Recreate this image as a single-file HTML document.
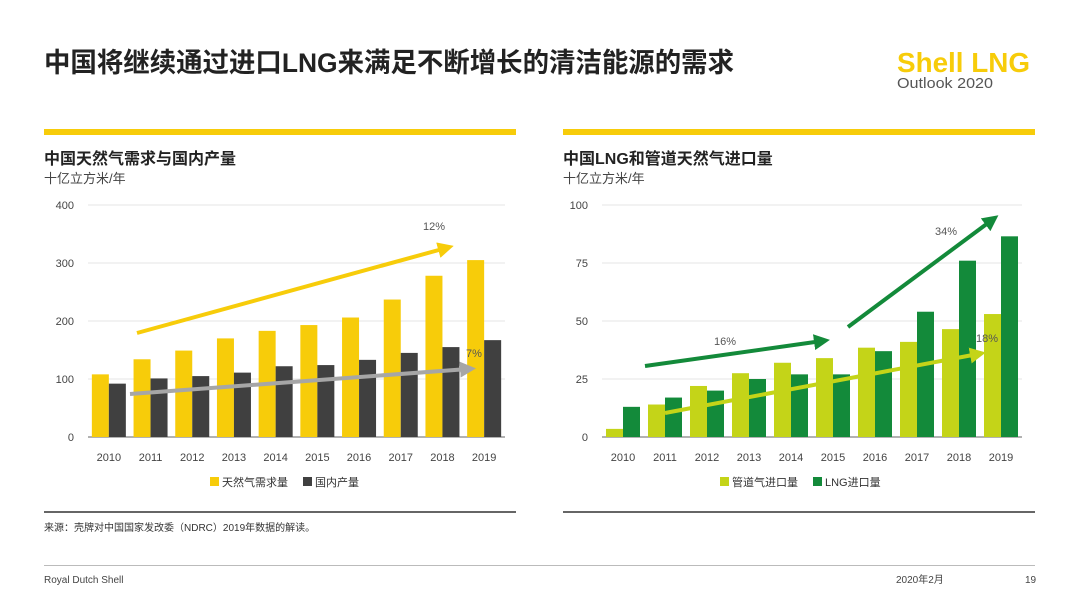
<!DOCTYPE html>
<html><head><meta charset="utf-8"><style>
body{margin:0;width:1080px;height:608px;background:#fff;overflow:hidden;font-family:"Liberation Sans","Noto Sans CJK SC",sans-serif;}
svg{position:absolute;left:0;top:0}
</style></head><body>
<svg id="s" width="1080" height="608" font-family="'Liberation Sans','Noto Sans CJK SC',sans-serif">
<defs>
<marker id="ay" markerWidth="4" markerHeight="4" refX="2" refY="2" orient="auto" markerUnits="strokeWidth"><path d="M0,0L4,2L0,4z" fill="#f7cc0a"/></marker>
<marker id="ag" markerWidth="4" markerHeight="4" refX="2" refY="2" orient="auto" markerUnits="strokeWidth"><path d="M0,0L4,2L0,4z" fill="#a6a6a6"/></marker>
<marker id="adg" markerWidth="4" markerHeight="4" refX="2" refY="2" orient="auto" markerUnits="strokeWidth"><path d="M0,0L4,2L0,4z" fill="#138a3a"/></marker>
<marker id="alg" markerWidth="4" markerHeight="4" refX="2" refY="2" orient="auto" markerUnits="strokeWidth"><path d="M0,0L4,2L0,4z" fill="#c4d418"/></marker>
</defs>
<text x="44" y="72" font-size="27" font-weight="bold" fill="#222" textLength="690" lengthAdjust="spacingAndGlyphs">中国将继续通过进口LNG来满足不断增长的清洁能源的需求</text>
<text x="897" y="72" font-size="28" font-weight="bold" fill="#f7cc0a" textLength="133" lengthAdjust="spacingAndGlyphs">Shell LNG</text>
<text x="897" y="88" font-size="15" fill="#555" textLength="96" lengthAdjust="spacingAndGlyphs">Outlook 2020</text>
<rect x="44" y="129" width="472" height="6" fill="#f7cc0a"/>
<rect x="563" y="129" width="472" height="6" fill="#f7cc0a"/>
<text x="44" y="164" font-size="16" font-weight="bold" fill="#222">中国天然气需求与国内产量</text>
<text x="44" y="183" font-size="13" fill="#444">十亿立方米/年</text>
<text x="563" y="164" font-size="16" font-weight="bold" fill="#222">中国LNG和管道天然气进口量</text>
<text x="563" y="183" font-size="13" fill="#444">十亿立方米/年</text>
<rect x="44" y="511" width="472" height="2" fill="#666"/>
<rect x="563" y="511" width="472" height="2" fill="#666"/>
<text x="44" y="531" font-size="10" fill="#333">来源：壳牌对中国国家发改委（NDRC）2019年数据的解读。</text>
<rect x="44" y="565" width="991" height="1" fill="#bbb"/>
<text x="44" y="583" font-size="10" fill="#444">Royal Dutch Shell</text>
<text x="896" y="583" font-size="10" fill="#444">2020年2月</text>
<text x="1025" y="583" font-size="10" fill="#444">19</text>
<g id="g1"></g><g id="g2"></g>
</svg>
<script>
const years=["2010","2011","2012","2013","2014","2015","2016","2017","2018","2019"];
const demand=[108,134,149,170,183,193,206,237,278,305];
const production=[92,101,105,111,122,124,133,145,155,167];
const leftTicks=[0,100,200,300,400];
const pipeline=[3.5,14,22,27.5,32,34,38.5,41,46.5,53];
const lngImports=[13,17,20,25,27,27,37,54,76,86.5];
const rightTicks=[0,25,50,75,100];
const NS="http://www.w3.org/2000/svg";
function mk(p,t,a){const e=document.createElementNS(NS,t);for(const k in a)e.setAttribute(k,a[k]);p.appendChild(e);return e;}
function chart(g,cfg){
  const x0=cfg.x0,x1=cfg.x1,yT=205,yB=437,max=cfg.max;
  const step=(x1-x0)/years.length;
  const y=v=>yB-(v/max)*(yB-yT);
  cfg.ticks.forEach(t=>{
    const l=mk(g,'line',{x1:x0,x2:x1,y1:y(t),y2:y(t),stroke:t===0?'#999':'#e6e6e6','stroke-width':t===0?1.5:1});
    
    
    const tx=mk(g,'text',{x:x0-14,y:y(t)+4,'text-anchor':'end','font-size':11,fill:'#444'});tx.textContent=t;
    
    
  });
  years.forEach((yr,i)=>{
    const cx=x0+step*(i+0.5);
    [[cfg.s1,cfg.c1,-1],[cfg.s2,cfg.c2,0]].forEach(([arr,c,o])=>{
      const r=mk(g,'rect',{x:cx+o*17,y:y(arr[i]),width:17,height:yB-y(arr[i]),fill:c});
      
      
    });
    const tx=mk(g,'text',{x:cx,y:yB+24,'text-anchor':'middle','font-size':11,fill:'#444'});tx.textContent=yr;
    
    
  });
  cfg.legend.forEach((L,i)=>{
    const r=mk(g,'rect',{x:L[0],y:477,width:9,height:9,fill:L[1]});
    
    
    const t=mk(g,'text',{x:L[0]+12,y:486,'font-size':11,fill:'#333'});t.textContent=L[2];
    
    
  });
  cfg.arrows.forEach(A=>{
    const l=mk(g,'line',{x1:A[0],y1:A[1],x2:A[2],y2:A[3],stroke:A[4],'stroke-width':4,'marker-end':'url(#'+A[5]+')'});
    
    
    const t=mk(g,'text',{x:A[6],y:A[7],'font-size':11,fill:'#555'});t.textContent=A[8];
    
    
  });
}
chart(document.getElementById('g1'),{x0:88,x1:505,max:400,ticks:leftTicks,s1:demand,s2:production,c1:'#f7cc0a',c2:'#404040',
 legend:[[210,'#f7cc0a','天然气需求量'],[303,'#404040','国内产量']],
 arrows:[[137,333,446,248,'#f7cc0a','ay',423,230,'12%'],[130,394,468,369,'#a6a6a6','ag',466,357,'7%']]});
chart(document.getElementById('g2'),{x0:602,x1:1022,max:100,ticks:rightTicks,s1:pipeline,s2:lngImports,c1:'#c4d418',c2:'#138a3a',
 legend:[[720,'#c4d418','管道气进口量'],[813,'#138a3a','LNG进口量']],
 arrows:[[645,366,822,341,'#138a3a','adg',714,345,'16%'],[848,327,992,220,'#138a3a','adg',935,235,'34%'],[665,413,978,354,'#c4d418','alg',976,342,'18%']]});
</script>
</body></html>
